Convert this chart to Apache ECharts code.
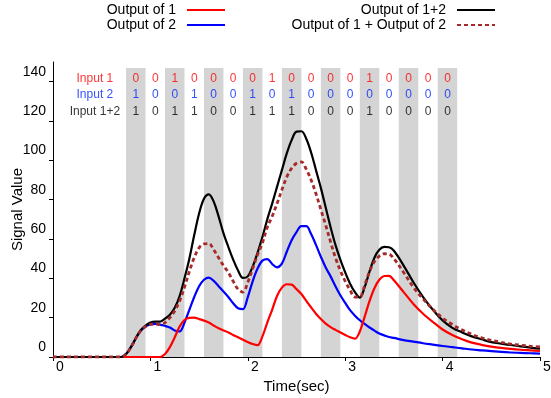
<!DOCTYPE html>
<html><head><meta charset="utf-8">
<script src="https://cdn.jsdelivr.net/npm/echarts@6/dist/echarts.min.js"></script>
<style>html,body{margin:0;padding:0;background:#fff}#c{width:551px;height:398px}</style>
</head><body><div id="c"></div>
<script>
// ---- data ----
const time = [0,0.5,0.7,0.75,0.8,0.85,0.9,0.95,1.0,1.05,1.1,1.15,1.2,1.25,1.3,1.35,1.4,1.45,1.5,1.55,1.6,1.65,1.7,1.75,1.8,1.85,1.9,1.95,2.0,2.05,2.1,2.15,2.2,2.25,2.3,2.35,2.4,2.45,2.5,2.55,2.6,2.65,2.7,2.75,2.8,2.85,2.9,2.95,3.0,3.05,3.1,3.15,3.2,3.25,3.3,3.35,3.4,3.45,3.5,3.6,3.7,3.8,3.9,4.0,4.1,4.2,4.3,4.4,4.5,4.6,4.7,4.8,4.9,5.0];
const output1 = [0,0,0,0,0,0,0,0,0,0,0,1.5,5,10,15.5,18.8,19.9,20,19.3,18.5,17.5,16,14.6,13.5,12.5,11.2,10,8.8,7.6,6.6,6,10.5,17.5,24,31,35.3,37,36.8,34.5,32,28.5,25.2,22,19.3,17,15.2,13.8,12.5,11.2,10,9.3,13,20.5,28.5,35,39.3,41.2,41.3,39,33,27,22,17.8,14,11.2,9,7.3,6.2,5.3,4.6,4.1,3.7,3.4,3.1];
const output2 = [0,0,0,1.5,5,9.5,13.3,15.5,16.6,16.8,16.5,15.8,15,13.5,13,17.5,24,30.5,36,39.3,40.4,38.7,36,33.3,30.5,27.3,24.8,24.3,30.5,38.5,45,49,49.8,47.3,45.6,47.5,53.5,59.4,63.5,66.5,66.5,62.5,57,51,45.5,41,36,31.4,27.5,23.8,21,18.7,16.8,15,13.4,11.9,11,10.2,9.7,8.6,7.8,7,6.3,5.6,5,4.4,3.8,3.4,3,2.6,2.3,2.1,1.9,1.7];
const output12 = [0,0,0,1.5,5,9.5,13.6,16,17.5,18,18,19.5,21.5,25,31,40,50,62,73,80.5,82.7,79,71.5,63,56,49.5,44,40.2,41,46,53,61,70,78,86.5,95,103.5,110.3,114.6,114.8,111,104,95,86,76,66,57,49.5,43,37.3,33,30.2,35.5,43.5,50.5,54.5,56,55.8,54,46.5,38,30.5,24,18.6,14.8,12.5,10.5,9,7.6,6.8,6.1,5.4,4.8,4.3];
const outputSum = [0,0,0,1.5,5,9.5,13.3,15.5,16.6,16.8,16.5,17.5,20,23.5,28.5,35.5,43.5,50.5,55.5,57.5,57.7,54.5,50.5,46.5,43,38.5,34.5,33,38,45,52,58,66,71.5,78,85,91.5,96,98.5,99.2,95.5,90,83,75,67,58.5,50.5,44,38.5,34,30.5,30.5,36.5,43.5,48.5,51.3,52.5,52.3,50,43,35.5,29.5,24.3,19.8,16.5,13.8,11.5,9.8,8.5,7.5,6.6,6,5.5,5.1];

const slotCenters = [0.85,1.05,1.25,1.45,1.65,1.85,2.05,2.25,2.45,2.65,2.85,3.05,3.25,3.45,3.65,3.85,4.05];
const input1  = [0,0,1,0,0,0,0,1,0,0,0,0,1,0,0,0,0];
const input2  = [1,0,0,1,0,0,1,0,1,0,0,0,0,0,0,0,0];
const input12 = [1,0,1,1,0,0,1,1,1,0,0,0,1,0,0,0,0];
const rowNames = ['Input 1','Input 2','Input 1+2'];
const seriesNames = ['Output of 1','Output of 2','Output of 1+2','Output of 1 + Output of 2'];
const xTicks = [0,1,2,3,4,5];
const yTicks = [0,20,40,60,80,100,120,140];

// ---- chart ----
const FONT = '"Liberation Sans", Arial, sans-serif';
const chart = echarts.init(document.getElementById('c'), null, {renderer:'canvas'});
const pair = arr => time.map((t,i)=>[t, arr[i]]);
const bandTop = 147;
const bands = slotCenters.filter((c,i)=>i%2===0).map(c=>[{coord:[c-0.1,0]},{coord:[c+0.1,bandTop]}]);
const rowY = [141.3, 133.5, 124.7];
const rowColors = ['#ff0000','#0026ff','#000000'];
const rowVals = [input1, input2, input12];
const rowLabelX = 0.43;

function leg(name, top, right){
  return {data:[name], top, right, align:'right', orient:'horizontal', padding:0,
    itemWidth:38, itemHeight:14, selectedMode:false,
    itemStyle:{opacity:0},
    textStyle:{fontSize:14, color:'#000', fontFamily:FONT, padding:[0,6,0,0]}};
}

const annot = rowNames.map((nm, r) => ({
  type:'scatter', silent:true, z:5, symbolSize:1,
  itemStyle:{color:'rgba(0,0,0,0)'},
  data: [[rowLabelX, rowY[r], nm]].concat(slotCenters.map((c,i)=>[c, rowY[r], String(rowVals[r][i])])),
  label:{show:true, position:'inside', formatter:p=>p.value[2], color:rowColors[r],
    fontSize:12, fontFamily:FONT}
}));

function lineS(name, arr, color, z, extra){
  return Object.assign({type:'line', name, data:pair(arr), symbol:'none', showSymbol:false,
    smooth:0.35, z, lineStyle:{color, width:2.2}, itemStyle:{color}}, extra||{});
}

chart.setOption({
  animation:false,
  textStyle:{fontFamily:FONT},
  grid:{left:53, right:11, top:62, bottom:41, outerBoundsMode:'none', containLabel:false},
  legend:[leg(seriesNames[0],3,325), leg(seriesNames[1],18,325), leg(seriesNames[2],3,55), leg(seriesNames[3],18,55)],
  xAxis:{type:'value', min:0, max:5, interval:1,
    axisLine:{show:true, lineStyle:{color:'#000', width:1}},
    axisTick:{show:true, length:4, lineStyle:{color:'#000'}, customValues:xTicks},
    axisLabel:{fontSize:14, color:'#000', margin:3, padding:[0,0,0,14], customValues:xTicks},
    splitLine:{show:false},
    name:'Time(sec)', nameLocation:'middle', nameGap:22, nameMoveOverlap:false, nameTextStyle:{fontSize:15, color:'#000'}},
  yAxis:{type:'value', min:0, max:150, interval:20,
    axisLine:{show:true, lineStyle:{color:'#000', width:1}},
    axisTick:{show:true, length:4, lineStyle:{color:'#000'}, customValues:yTicks},
    axisLabel:{fontSize:14, color:'#000', margin:7, verticalAlign:'bottom', lineHeight:20, customValues:yTicks},
    splitLine:{show:false},
    name:'Signal Value', nameLocation:'middle', nameGap:28, nameMoveOverlap:false, nameTextStyle:{fontSize:15, color:'#000'}},
  series:[
    {type:'line', name:'bands', data:[], silent:true, z:0,
      markArea:{silent:true, itemStyle:{color:'#d4d4d4'}, data:bands}},
    lineS(seriesNames[1], output2, '#0000ff', 2),
    lineS(seriesNames[0], output1, '#ff0000', 3),
    lineS(seriesNames[2], output12, '#000000', 4),
    lineS(seriesNames[3], outputSum, '#a52a2a', 4.5, {lineStyle:{color:'#a52a2a', width:2.8, type:[4,3]}}),
  ].concat(annot)
});
</script>
</body></html>
